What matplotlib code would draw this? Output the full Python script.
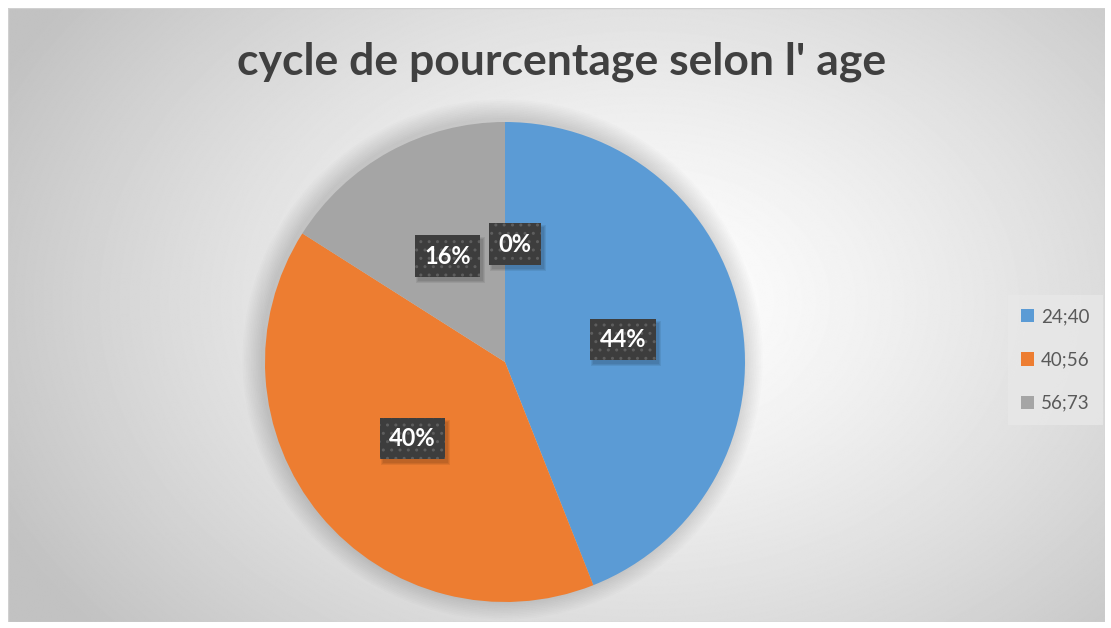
import numpy as np
import matplotlib.pyplot as plt
from matplotlib.patches import Circle, Rectangle

# age groups and their share (%) - last slice is an empty group
labels = ["24;40", "40;56", "56;73", ""]
values = [44, 40, 16, 0]
colors = ["#5b9bd5", "#ed7d31", "#a5a5a5", "#ffc000"]

W, H = 1111, 628
fig = plt.figure(figsize=(W / 100, H / 100), dpi=100)
fig.patch.set_facecolor("white")

# radial gradient background of the chart area
bg = fig.add_axes([8 / W, 6 / H, (W - 14) / W, (H - 14) / H])
yy, xx = np.mgrid[0:H, 0:W]
d = np.sqrt(((xx - 640) / 720.0) ** 2 + ((yy - 300) / 520.0) ** 2)
shade = 1.0 - 0.24 * np.clip(d, 0, 1) ** 1.3
bg.imshow(shade, cmap="gray", vmin=0, vmax=1, aspect="auto", extent=[0, 1, 0, 1])
bg.add_patch(Rectangle((0, 0), 1, 1, transform=bg.transAxes, fill=False,
                       edgecolor="#d0d0d0", linewidth=1))
bg.set_axis_off()

# pie axes: centre (505, 362) px, radius 240 px
cx, cy, r = 505, 362, 240
ax = fig.add_axes([(cx - r) / W, (H - cy - r) / H, 2 * r / W, 2 * r / H])
ax.set_axis_off()

# soft shadow around the pie
for i in range(12):
    ax.add_patch(Circle((-0.01, 0.01), 1.0 + 0.007 * (i + 1), color="black",
                        alpha=0.011, zorder=0, linewidth=0, clip_on=False))

wedges, texts, autotexts = ax.pie(
    values, colors=colors, startangle=90, counterclock=False,
    autopct="%1.0f%%", pctdistance=0.5,
    wedgeprops=dict(linewidth=0),
    textprops=dict(color="white", fontsize=17, fontweight="bold", family="Lato"))

for t in autotexts:
    t.set_bbox(dict(boxstyle="square,pad=0.4", facecolor="#3d3d3d",
                    edgecolor="#5e5e5e", linewidth=0, hatch=".."))
    t.set_zorder(5)
autotexts[3].set_position((0.04, 0.49))
autotexts[2].set_position((-0.24, 0.44))

ax.set_xlim(-1, 1)
ax.set_ylim(-1, 1)

# soft shadows under the label boxes (below the text, above the wedges)
fig.canvas.draw()
renderer = fig.canvas.get_renderer()
inv = ax.transData.inverted()
for t in autotexts:
    bb = t.get_bbox_patch().get_window_extent(renderer)
    for k in range(3):
        (x0, y0) = inv.transform((bb.x0 + 3 - k, bb.y0 - 4 - k))
        (x1, y1) = inv.transform((bb.x1 + 3 + k, bb.y1 - 4 + k))
        ax.add_patch(Rectangle((x0, y0), x1 - x0, y1 - y0, facecolor="black",
                               alpha=0.07, linewidth=0, zorder=2))

fig.text(562 / W, 1 - 62 / H, "cycle de pourcentage selon l' age",
         ha="center", va="center", fontsize=32, fontweight="bold",
         color="#404040", family="Lato")

leg = fig.legend(wedges[:3], labels[:3], loc="center left",
                 bbox_to_anchor=(1008 / W, 1 - 360 / H), frameon=True,
                 handlelength=0.7, handleheight=0.7,
                 labelspacing=1.4, borderpad=0.7, handletextpad=0.35,
                 borderaxespad=0, prop=dict(family="Lato", size=13.5))
leg.get_frame().set_facecolor("#e8e8e8")
leg.get_frame().set_edgecolor("none")
leg.get_frame().set_alpha(0.8)
leg.get_frame().set_boxstyle("square", pad=0)
for t in leg.get_texts():
    t.set_color("#595959")

fig.savefig("out.png", dpi=100)
